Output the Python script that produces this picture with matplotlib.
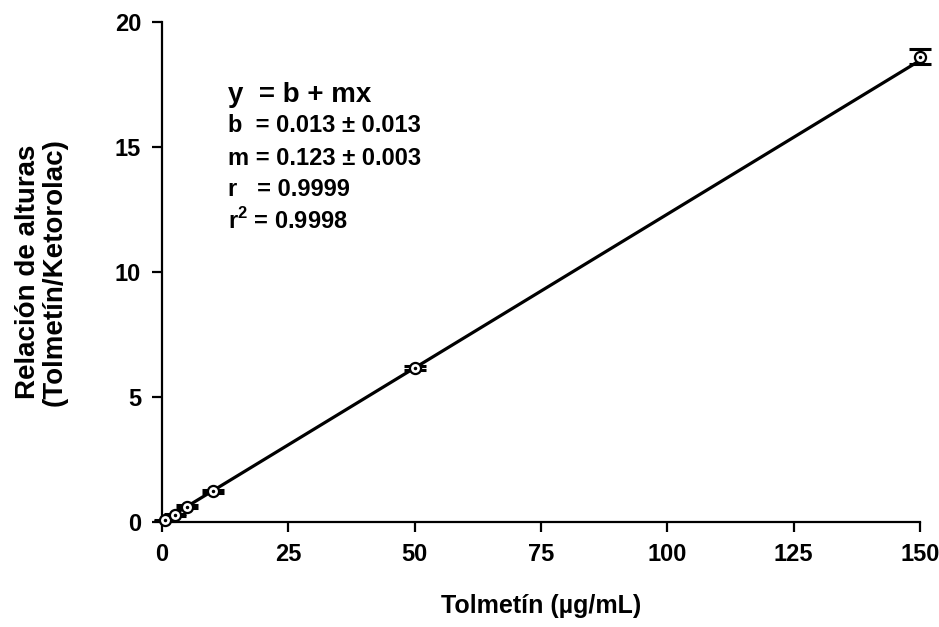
import matplotlib.pyplot as plt
import numpy as np

plt.rcParams['font.family'] = ['Liberation Sans', 'DejaVu Sans']
plt.rcParams['font.weight'] = 'bold'
plt.rcParams['mathtext.fontset'] = 'custom'
plt.rcParams['mathtext.rm'] = 'Liberation Sans:bold'
plt.rcParams['mathtext.bf'] = 'Liberation Sans:bold'

# data
conc = [0.5, 2.5, 5, 10, 50, 150]
ratio = [0.07, 0.30, 0.62, 1.24, 6.15, 18.62]
err = [0.03, 0.04, 0.05, 0.06, 0.08, 0.30]
b = 0.013
m = 0.123
fit_lines = ["y  = b + mx", "b  = 0.013 \u00b1 0.013", "m = 0.123 \u00b1 0.003",
             "r   = 0.9999", r"r$^{\mathbf{2}}$ = 0.9998"]
xticks = [0, 25, 50, 75, 100, 125, 150]
yticks = [0, 5, 10, 15, 20]

fig = plt.figure(figsize=(9.39, 6.27), dpi=100)
ax = fig.add_axes([162/939, 1-522/627, (920-162)/939, 500/627])

xx = np.array([0, 150])
ax.plot(xx, b + m*xx, color='black', lw=2.3, zorder=2)
ax.errorbar(conc, ratio, yerr=err, fmt='none', ecolor='black', elinewidth=2,
            capsize=8, capthick=2.2, zorder=3, clip_on=False)
ax.plot(conc, ratio, 'o', ms=8, mfc='white', mec='black', mew=1.6, zorder=4, clip_on=False)
ax.plot(conc, ratio, '.', ms=3, color='black', zorder=5, clip_on=False)

ax.set_xlim(0, 150)
ax.set_ylim(0, 20)
ax.set_xticks(xticks)
ax.set_yticks(yticks)
for s in ['top', 'right']:
    ax.spines[s].set_visible(False)
for s in ['left', 'bottom']:
    ax.spines[s].set_linewidth(1.6)
ax.tick_params(direction='out', length=7, width=1.6, labelsize=17, pad=8)
for lab in ax.get_xticklabels() + ax.get_yticklabels():
    lab.set_fontweight('bold')

ax.set_xlabel("Tolmet\u00edn (\u00b5g/mL)", fontsize=18, fontweight='bold', labelpad=20)
ax.set_ylabel("Relaci\u00f3n de alturas\n(Tolmet\u00edn/Ketorolac)", fontsize=20,
              fontweight='bold', labelpad=34, linespacing=1.05)

ys = [17.1, 15.85, 14.55, 13.3, 12.05]
for i, t in enumerate(fit_lines):
    ax.text(13, ys[i], t, fontsize=17 if i else 20, fontweight='bold', va='center', ha='left')

fig.savefig('out.png', dpi=100)
